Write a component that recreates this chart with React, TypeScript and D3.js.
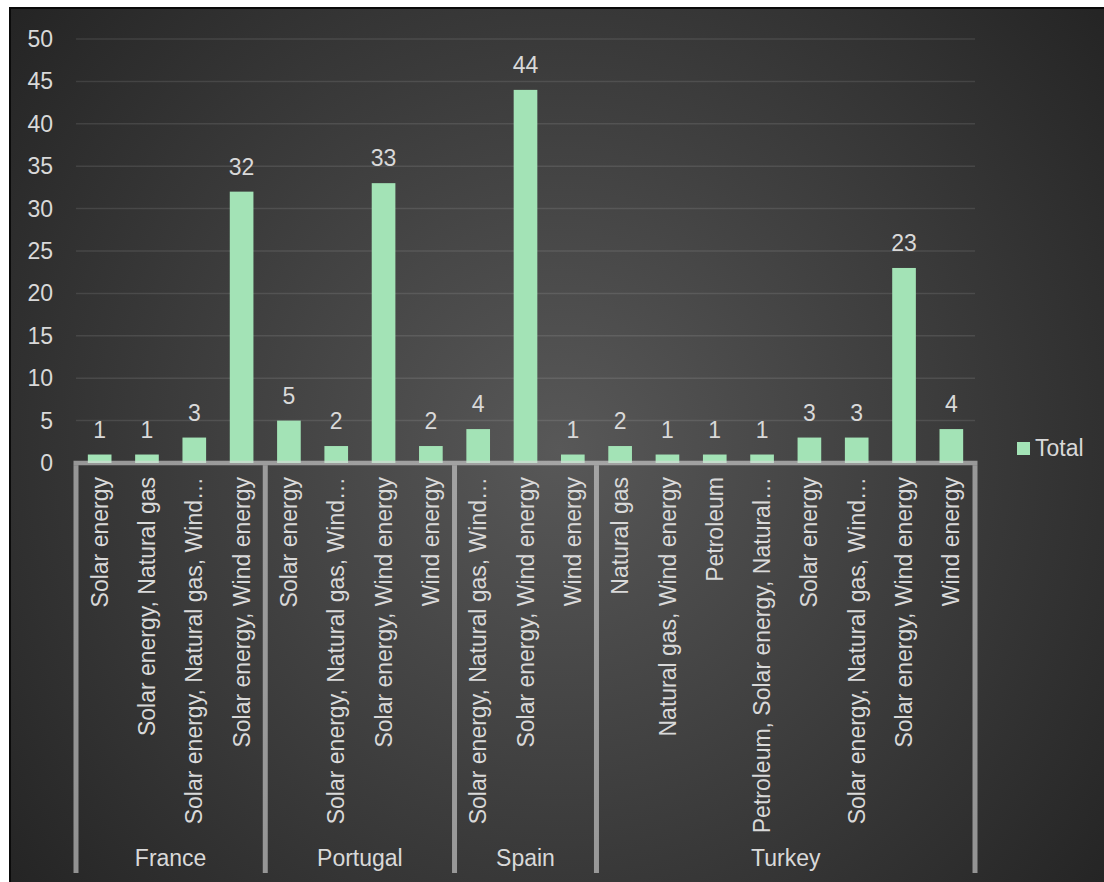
import React from "react";
import * as d3 from "d3";

const groups = ["France", "Portugal", "Spain", "Turkey"];
const groupSizes = [4, 4, 3, 8];
const categories = [
  "Solar energy",
  "Solar energy, Natural gas",
  "Solar energy, Natural gas, Wind…",
  "Solar energy, Wind energy",
  "Solar energy",
  "Solar energy, Natural gas, Wind…",
  "Solar energy, Wind energy",
  "Wind energy",
  "Solar energy, Natural gas, Wind…",
  "Solar energy, Wind energy",
  "Wind energy",
  "Natural gas",
  "Natural gas, Wind energy",
  "Petroleum",
  "Petroleum, Solar energy, Natural…",
  "Solar energy",
  "Solar energy, Natural gas, Wind…",
  "Solar energy, Wind energy",
  "Wind energy",
];
const values = [1, 1, 3, 32, 5, 2, 33, 2, 4, 44, 1, 2, 1, 1, 1, 3, 3, 23, 4];
const yTicks = [0, 5, 10, 15, 20, 25, 30, 35, 40, 45, 50];
const seriesName = "Total";

const W = 1104;
const H = 882;
const FONT = "'Liberation Sans', Arial, sans-serif";
const TXT = "#d9d9d9";
const BAR = "#a3e3b6";

export default function App() {
  const x = d3
    .scaleBand<number>()
    .domain(values.map((_, i) => i))
    .range([76, 975])
    .paddingInner(0.5)
    .paddingOuter(0.25);
  const y = d3.scaleLinear().domain([0, 50]).range([463, 39]);
  const step = x.step();
  const x0 = 76;

  const bounds: number[] = [0];
  groupSizes.forEach((s) => bounds.push(bounds[bounds.length - 1] + s));

  return (
    <svg
      width={W}
      height={H}
      style={{ position: "absolute", left: 0, top: 0, display: "block" }}
      fontFamily={FONT}
    >
      <defs>
        <radialGradient id="bg" gradientUnits="userSpaceOnUse" cx={560} cy={450} r={720}>
          <stop offset="0" stopColor="#585858" />
          <stop offset="1" stopColor="#232323" />
        </radialGradient>
      </defs>
      <rect x={0} y={0} width={W} height={H} fill="#fff" />
      <rect x={10} y={8} width={W + 10} height={H + 10} fill="url(#bg)" stroke="#0a0a0a" strokeWidth={2} />

      {/* gridlines */}
      {yTicks.map((t) =>
        t === 0 ? null : (
          <line key={t} x1={76} x2={975} y1={y(t)} y2={y(t)} stroke="#ffffff" strokeOpacity={0.1} strokeWidth={1.5} />
        )
      )}
      {/* y tick labels */}
      {yTicks.map((t) => (
        <text key={t} x={53} y={y(t)} dy="0.35em" textAnchor="end" fill={TXT} fontSize={23}>
          {t}
        </text>
      ))}

      {/* bars */}
      {values.map((v, i) => (
        <rect key={i} x={x(i)} y={y(v)} width={x.bandwidth()} height={y(0) - y(v)} fill={BAR} />
      ))}
      {/* data labels */}
      {values.map((v, i) => (
        <text key={i} x={(x(i) as number) + x.bandwidth() / 2} y={y(v) - 17} textAnchor="middle" fill={TXT} fontSize={23}>
          {v}
        </text>
      ))}

      {/* axis lines */}
      <line x1={73.5} x2={977.5} y1={y(0)} y2={y(0)} stroke="#d9d9d9" strokeOpacity={0.6} strokeWidth={4.5} />
      {bounds.map((b, i) => (
        <line
          key={i}
          x1={x0 + b * step}
          x2={x0 + b * step}
          y1={y(0) + 2.25}
          y2={873}
          stroke="#d9d9d9"
          strokeOpacity={0.6}
          strokeWidth={5}
        />
      ))}

      {/* category labels */}
      {categories.map((c, i) => {
        const cx = (x(i) as number) + x.bandwidth() / 2;
        const cy = 477;
        return (
          <text
            key={i}
            transform={`translate(${cx},${cy}) rotate(-90)`}
            dy="0.35em"
            textAnchor="end"
            fill={TXT}
            fontSize={23}
          >
            {c}
          </text>
        );
      })}

      {/* group labels */}
      {groups.map((g, i) => (
        <text
          key={g}
          x={x0 + ((bounds[i] + bounds[i + 1]) / 2) * step}
          y={866}
          textAnchor="middle"
          fill={TXT}
          fontSize={23}
        >
          {g}
        </text>
      ))}

      {/* legend */}
      <rect x={1017} y={442} width={13} height={13} fill={BAR} />
      <text x={1035} y={456} fill={TXT} fontSize={23}>
        {seriesName}
      </text>
    </svg>
  );
}
